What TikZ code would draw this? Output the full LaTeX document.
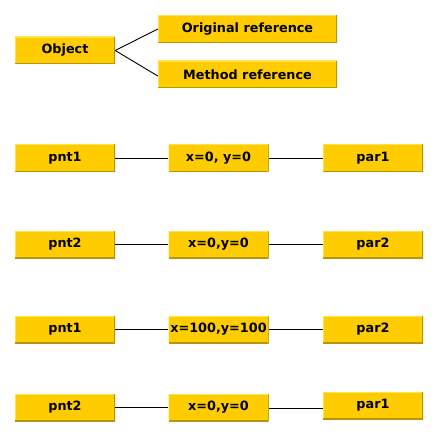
\documentclass[tikz,border=0pt]{standalone}
\usepackage{fontspec}
\setmainfont{DejaVu Sans}
\definecolor{boxfill}{HTML}{FFCC00}
\definecolor{boxdark}{HTML}{B8960A}
\definecolor{boxlight}{HTML}{FFE34A}
\begin{document}
\begin{tikzpicture}[x=1pt,y=-1pt,
  box/.style={rectangle, fill=boxfill, minimum height=27pt, inner sep=0pt,
    font=\fontsize{12.8}{14}\selectfont\bfseries,
    path picture={
      \draw[boxlight, line width=1.4pt] (path picture bounding box.south west) -- (path picture bounding box.north west) -- (path picture bounding box.north east);
      \draw[boxdark, line width=1.4pt] (path picture bounding box.north east) -- (path picture bounding box.south east) -- (path picture bounding box.south west);
    }},
  wbox/.style={box, minimum width=100pt},
  lbox/.style={box, minimum width=179pt},
  conn/.style={draw=black, line width=0.9pt}]
\useasboundingbox (0,0) rectangle (438,438);
% top group
\node[wbox] (obj) at (65,50.5) {Object};
\node[lbox] (orig) at (247.5,29) {Original reference};
\node[lbox] (meth) at (247.5,74.5) {Method reference};
\draw[conn] (obj.east) -- (orig.west);
\draw[conn] (obj.east) -- ([yshift=-1.5pt]meth.west);
% row 1
\node[wbox] (p1) at (65,158) {pnt1};
\node[wbox] (m1) at (218.5,158) {x=0, y=0};
\node[wbox] (r1) at (373,158) {par1};
\draw[conn] (p1) -- (m1);
\draw[conn] (m1) -- (r1);
% row 2
\node[wbox] (p2) at (65,244.5) {pnt2};
\node[wbox] (m2) at (218.5,244.5) {x=0,y=0};
\node[wbox] (r2) at (373,244.5) {par2};
\draw[conn] (p2) -- (m2);
\draw[conn] (m2) -- (r2);
% row 3
\node[wbox] (p3) at (65,329.5) {pnt1};
\node[wbox] (m3) at (218.5,329.5) {x=100,y=100};
\node[wbox] (r3) at (373,329.5) {par2};
\draw[conn] (p3) -- (m3);
\draw[conn] (m3) -- (r3);
% row 4
\node[wbox] (p4) at (65,407.5) {pnt2};
\node[wbox] (m4) at (218.5,407.5) {x=0,y=0};
\node[wbox] (r4) at (373,405.5) {par1};
\draw[conn] (p4) -- (m4);
\draw[conn] ([yshift=-1pt]m4.east) -- ([yshift=-1pt]m4.east -| r4.west);
\end{tikzpicture}
\end{document}
